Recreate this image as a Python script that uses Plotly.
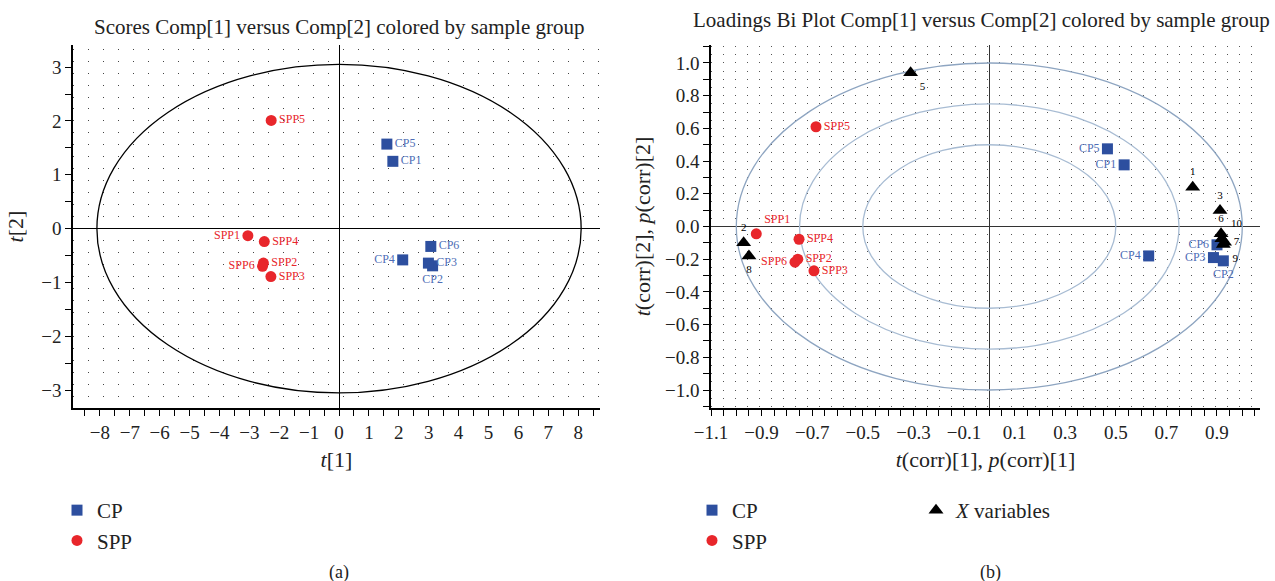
import plotly.graph_objects as go

# ---------------- data ----------------
# (a) scores plot
score_cp_names = ["CP1", "CP2", "CP3", "CP4", "CP5", "CP6"]
score_cp_t1 = [1.80, 3.13, 2.99, 2.13, 1.60, 3.07]
score_cp_t2 = [1.25, -0.69, -0.64, -0.58, 1.57, -0.33]

score_spp_names = ["SPP1", "SPP2", "SPP3", "SPP4", "SPP5", "SPP6"]
score_spp_t1 = [-3.05, -2.53, -2.28, -2.50, -2.27, -2.56]
score_spp_t2 = [-0.13, -0.64, -0.89, -0.24, 2.01, -0.70]

# Hotelling T2 ellipse semi-axes
ellipse_a = 8.1
ellipse_b = 3.05

# (b) loadings bi-plot
bi_cp_names = ["CP1", "CP2", "CP3", "CP4", "CP5", "CP6"]
bi_cp_x = [0.533, 0.925, 0.886, 0.630, 0.467, 0.900]
bi_cp_y = [0.377, -0.210, -0.190, -0.180, 0.475, -0.112]

bi_spp_names = ["SPP1", "SPP2", "SPP3", "SPP4", "SPP5", "SPP6"]
bi_spp_x = [-0.921, -0.757, -0.693, -0.752, -0.685, -0.768]
bi_spp_y = [-0.045, -0.200, -0.271, -0.078, 0.610, -0.218]

xvar_names = ["1", "2", "3", "5", "6", "7", "8", "9", "10"]
xvar_x = [0.804, -0.971, 0.912, -0.311, 0.916, 0.930, -0.950, 0.925, 0.919]
xvar_y = [0.240, -0.100, 0.098, 0.940, -0.045, -0.096, -0.180, -0.110, -0.075]

circle_radii = [1.0, 0.75, 0.5]

# ---------------- styles ----------------
FONT = "Liberation Serif, Times New Roman, serif"
BLUE = "#2d4f9f"
BLUE_TXT = "#4e6db6"
RED = "#e8262b"

score_cp_pos = ["middle right", "bottom center", "middle right", "middle left", "middle right", "middle right"]
score_spp_pos = ["middle left", "middle right", "middle right", "middle right", "middle right", "middle left"]
bi_cp_pos = ["middle left", "bottom center", "middle left", "middle left", "middle left", "middle left"]
bi_spp_pos = ["top right", "middle right", "middle right", "middle right", "middle right", "middle left"]
xvar_pos = ["top center", "top center", "top center", "bottom right", "top center", "middle right",
            "bottom center", "bottom right", "top right"]

fig = go.Figure()

# ---- left panel ----
fig.add_trace(go.Scatter(
    x=score_cp_t1, y=score_cp_t2, text=score_cp_names, mode="markers+text",
    textposition=score_cp_pos, name="CP",
    marker=dict(symbol="square", size=11, color=BLUE),
    textfont=dict(family=FONT, size=12, color=BLUE_TXT),
    xaxis="x", yaxis="y", legend="legend", cliponaxis=False))
fig.add_trace(go.Scatter(
    x=score_spp_t1, y=score_spp_t2, text=score_spp_names, mode="markers+text",
    textposition=score_spp_pos, name="SPP",
    marker=dict(symbol="circle", size=11, color=RED),
    textfont=dict(family=FONT, size=12, color=RED),
    xaxis="x", yaxis="y", legend="legend", cliponaxis=False))

# ---- right panel ----
fig.add_trace(go.Scatter(
    x=bi_cp_x, y=bi_cp_y, text=bi_cp_names, mode="markers+text",
    textposition=bi_cp_pos, name="CP",
    marker=dict(symbol="square", size=11, color=BLUE),
    textfont=dict(family=FONT, size=12, color=BLUE_TXT),
    xaxis="x2", yaxis="y2", legend="legend2", cliponaxis=False))
fig.add_trace(go.Scatter(
    x=bi_spp_x, y=bi_spp_y, text=bi_spp_names, mode="markers+text",
    textposition=bi_spp_pos, name="SPP",
    marker=dict(symbol="circle", size=11, color=RED),
    textfont=dict(family=FONT, size=12, color=RED),
    xaxis="x2", yaxis="y2", legend="legend2", cliponaxis=False))
fig.add_trace(go.Scatter(
    x=xvar_x, y=xvar_y, text=xvar_names, mode="markers+text",
    textposition=xvar_pos, name="<i>X</i> variables",
    marker=dict(symbol="triangle-up", size=13, color="black"),
    textfont=dict(family=FONT, size=11, color="black"),
    xaxis="x2", yaxis="y2", legend="legend3", cliponaxis=False))

# empty helpers for the dotted-grid overlay axes
fig.add_trace(go.Scatter(x=[], y=[], xaxis="x", yaxis="y3", showlegend=False, hoverinfo="skip"))
fig.add_trace(go.Scatter(x=[], y=[], xaxis="x2", yaxis="y4", showlegend=False, hoverinfo="skip"))

# ellipse / circles
shapes = [dict(type="circle", xref="x", yref="y", x0=-ellipse_a, x1=ellipse_a,
               y0=-ellipse_b, y1=ellipse_b, line=dict(color="black", width=1.3), layer="between")]
circ_colors = ["#8ea5c1", "#a8bcd3", "#a8bcd3"]
for r, c in zip(circle_radii, circ_colors):
    shapes.append(dict(type="circle", xref="x2", yref="y2", x0=-r, x1=r, y0=-r, y1=r,
                       line=dict(color=c, width=1.3), layer="between"))

LX = [73 / 1275, 600 / 1275]
RX = [711 / 1275, 1260 / 1275]
YD = [(581 - 408) / 581, (581 - 45) / 581]
LXR = [-8.9, 8.73]
LYR = [-3.33, 3.41]
RXR = [-1.1, 1.07]
RYR = [-1.11, 1.11]

tickfont = dict(family=FONT, size=19, color="#222")
titlefont = dict(family=FONT, size=22, color="#222")

common = dict(showline=True, linecolor="black", linewidth=1.5, ticks="outside",
              ticklen=6, tickcolor="black", tickwidth=1, showgrid=False,
              zeroline=True, zerolinecolor="black", zerolinewidth=1.2,
              tickfont=tickfont, mirror=False, fixedrange=True, automargin=False)

legfont = dict(family=FONT, size=21, color="#222")
LEG_Y = 1 - 490 / 581

fig.update_layout(
    width=1275, height=581, margin=dict(l=0, r=0, t=0, b=0),
    paper_bgcolor="white", plot_bgcolor="white",
    font=dict(family=FONT, color="#222"),
    xaxis=dict(domain=LX, range=LXR, anchor="y", dtick=1, tick0=0,
               minor=dict(dtick=0.5, ticks="outside", ticklen=6, tickcolor="black", showgrid=False),
               title=dict(text="<i>t</i>[1]", font=titlefont, standoff=10), **common),
    yaxis=dict(domain=YD, range=LYR, anchor="x", dtick=1, tick0=0,
               minor=dict(dtick=0.5, ticks="outside", ticklen=6, tickcolor="black", showgrid=False),
               title=dict(text="<i>t</i>[2]", font=titlefont, standoff=12), **common),
    yaxis3=dict(overlaying="y", anchor="x", range=LYR, tick0=0, dtick=2 / 9,
                showgrid=True, griddash="1px,14px", gridcolor="#444", gridwidth=1,
                showticklabels=False, ticks="", showline=False, zeroline=False,
                fixedrange=True, automargin=False),
    xaxis2=dict(domain=RX, range=RXR, anchor="y2", dtick=0.2, tick0=-1.1, tickformat=".1f",
                minor=dict(dtick=0.05, tick0=-1.1, ticks="outside", ticklen=6, tickcolor="black", showgrid=False),
                title=dict(text="<i>t</i>(corr)[1], <i>p</i>(corr)[1]", font=titlefont, standoff=10),
                **{**common, "zerolinecolor": "#333"}),
    yaxis2=dict(domain=YD, range=RYR, anchor="x2", dtick=0.2, tick0=0, tickformat=".1f",
                minor=dict(dtick=0.1, ticks="outside", ticklen=6, tickcolor="black", showgrid=False),
                title=dict(text="<i>t</i>(corr)[2], <i>p</i>(corr)[2]", font=titlefont, standoff=8),
                **{**common, "zerolinecolor": "#333"}),
    yaxis4=dict(overlaying="y2", anchor="x2", range=RYR, tick0=0, dtick=0.05,
                showgrid=True, griddash="1px,11px", gridcolor="#555", gridwidth=1,
                showticklabels=False, ticks="", showline=False, zeroline=False,
                fixedrange=True, automargin=False),
    shapes=shapes,
    legend=dict(x=57 / 1275, y=LEG_Y, xanchor="left", yanchor="top", orientation="v",
                font=legfont, bgcolor="rgba(0,0,0,0)", tracegroupgap=0, itemclick=False),
    legend2=dict(x=692 / 1275, y=LEG_Y, xanchor="left", yanchor="top", orientation="v",
                 font=legfont, bgcolor="rgba(0,0,0,0)", tracegroupgap=0, itemclick=False),
    legend3=dict(x=916 / 1275, y=LEG_Y, xanchor="left", yanchor="top", orientation="v",
                 font=legfont, bgcolor="rgba(0,0,0,0)", tracegroupgap=0, itemclick=False),
    annotations=[
        dict(text="Scores Comp[1] versus Comp[2] colored by sample group", xref="paper", yref="paper",
             x=339 / 1275, y=1 - 27 / 581, xanchor="center", yanchor="middle", showarrow=False,
             font=dict(family=FONT, size=21, color="#222")),
        dict(text="Loadings Bi Plot Comp[1] versus Comp[2] colored by sample group", xref="paper", yref="paper",
             x=981 / 1275, y=1 - 20 / 581, xanchor="center", yanchor="middle", showarrow=False,
             font=dict(family=FONT, size=21, color="#222")),
        dict(text="(a)", xref="paper", yref="paper", x=339 / 1275, y=1 - 572 / 581,
             xanchor="center", yanchor="middle", showarrow=False,
             font=dict(family=FONT, size=18, color="#222")),
        dict(text="(b)", xref="paper", yref="paper", x=990 / 1275, y=1 - 572 / 581,
             xanchor="center", yanchor="middle", showarrow=False,
             font=dict(family=FONT, size=18, color="#222")),
    ],
)

fig.write_html("out.html", config={"displayModeBar": False},
               post_script="document.body.style.margin='0';document.body.style.overflow='hidden';")
